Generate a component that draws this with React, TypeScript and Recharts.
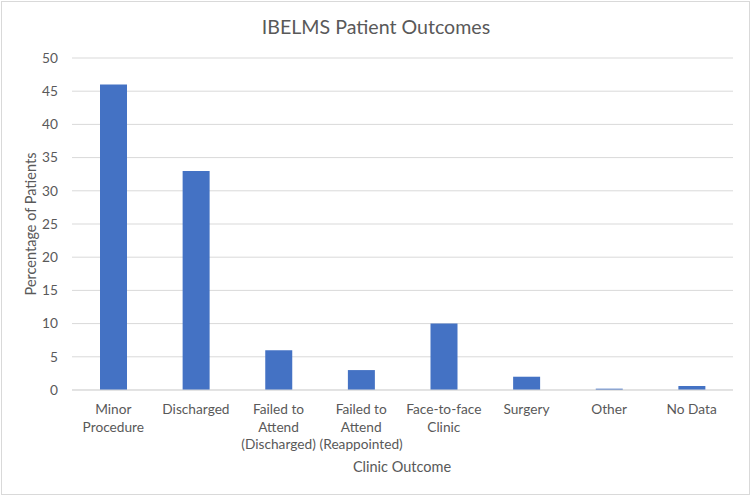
import React from 'react';
import { BarChart, Bar, XAxis, YAxis, CartesianGrid } from 'recharts';

const categoryLines: string[][] = [
  ['Minor', 'Procedure'],
  ['Discharged'],
  ['Failed to', 'Attend', '(Discharged)'],
  ['Failed to', 'Attend', '(Reappointed)'],
  ['Face-to-face', 'Clinic'],
  ['Surgery'],
  ['Other'],
  ['No Data'],
];
const categories: string[] = categoryLines.map((l) => l.join(' '));
const percentages: number[] = [46, 33, 6, 3, 10, 2, 0.2, 0.6];
const yTicks: number[] = [0, 5, 10, 15, 20, 25, 30, 35, 40, 45, 50];

const data = categories.map((c, i) => ({ name: c, value: percentages[i] }));

const FONT = 'Lato, "Open Sans", sans-serif';
const TEXT = '#595959';

const XTick = (props: any) => {
  const { x, y, index } = props;
  const lines = categoryLines[index] || [];
  return (
    <g transform={`translate(${x},${y})`}>
      {lines.map((l, i) => (
        <text key={i} x={0} y={16 + i * 17.5} textAnchor="middle" fill={TEXT} fontSize={13.7} fontFamily={FONT}>
          {l}
        </text>
      ))}
    </g>
  );
};

export default function App() {
  return (
    <div style={{ position: 'absolute', left: 0, top: 0, width: 751, height: 496, background: '#fff' }}>
      <div style={{ position: 'absolute', left: 1, top: 1, width: 747, height: 492, border: '1px solid #d9d9d9' }} />
      <BarChart
        width={751}
        height={496}
        data={data}
        margin={{ top: 58, right: 18, bottom: 0, left: 0 }}
        style={{ position: 'absolute', left: 0, top: 0 }}
      >
        <text x={376} y={34} textAnchor="middle" fill={TEXT} fontSize={19.6} fontFamily={FONT}>
          IBELMS Patient Outcomes
        </text>
        <CartesianGrid vertical={false} stroke="#d9d9d9" />
        <XAxis
          dataKey="name"
          interval={0}
          tick={<XTick />}
          tickLine={false}
          axisLine={{ stroke: '#d9d9d9' }}
          height={106}
          label={(p: any) => (
            <text x={402} y={472} textAnchor="middle" fill={TEXT} fontSize={14.5} fontFamily={FONT}>
              Clinic Outcome
            </text>
          )}
        />
        <YAxis
          domain={[0, 50]}
          ticks={yTicks}
          interval={0}
          width={72}
          tickLine={false}
          axisLine={false}
          tickMargin={8}
          tick={{ fill: TEXT, fontSize: 13.7, fontFamily: FONT }}
          label={(p: any) => (
            <text
              x={36}
              y={224}
              transform="rotate(-90 36 224)"
              textAnchor="middle"
              fill={TEXT}
              fontSize={14.5}
              fontFamily={FONT}
            >
              Percentage of Patients
            </text>
          )}
        />
        <Bar dataKey="value" fill="#4472C4" barSize={27} isAnimationActive={false} />
      </BarChart>
    </div>
  );
}
